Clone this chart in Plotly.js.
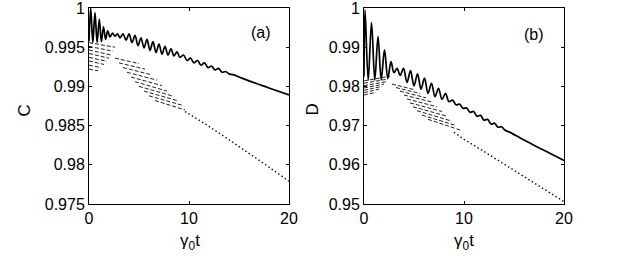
<!DOCTYPE html>
<html>
<head>
<meta charset="utf-8">
<script src="https://cdn.plot.ly/plotly-3.0.1.min.js"></script>
<style>html,body{margin:0;padding:0;background:#fff;}#chart{width:623px;height:264px;}</style>
</head>
<body>
<div id="chart"></div>
<script>
// ---------- Panel (a): C ----------
const aSolidT = [0.00,0.17,0.38,0.60,0.81,1.03,1.24,1.45,1.66,1.87,2.10,2.35,2.60,2.85,3.10,3.40,3.70,4.00,4.30,4.60,4.90,5.20,5.50,5.80,6.10,6.40,6.70,7.00,7.30,7.60,7.90,8.20,8.50,8.80,9.10,9.45,9.80,10.15,10.50,10.85,11.20,11.55,11.90,12.25,12.60,12.95,13.30,13.65,14.0,14.4,15.0,16.0,18.0,20.0];
const aSolidC = [0.9958,1.0000,0.9956,0.9994,0.9956,0.9986,0.9957,0.9976,0.9960,0.9971,0.9963,0.9968,0.9964,0.9967,0.9962,0.9967,0.9959,0.9967,0.9956,0.9965,0.9952,0.9962,0.9949,0.9960,0.9946,0.9957,0.9943,0.9954,0.9941,0.9951,0.9940,0.9948,0.9939,0.9944,0.9937,0.9940,0.9933,0.9936,0.9930,0.9933,0.9927,0.9930,0.9924,0.9926,0.9921,0.9923,0.9918,0.9919,0.9916,0.9915,0.9912,0.9907,0.9898,0.9889];
// dashed segments (start t, start C, end t, end C)
const aRowT0 = [0,0,0,0,0,0,0,0, 2.6,3.0,3.4,3.8,4.2,4.6,5.0,5.5,6.0,6.6];
const aRowC0 = [0.99557,0.99510,0.99465,0.99420,0.99370,0.99325,0.99270,0.99220, 0.9936,0.9930,0.9924,0.9918,0.9912,0.9906,0.9900,0.9894,0.9888,0.9882];
const aRowT1 = [2.6,2.4,2.2,2.0,1.8,1.5,1.2,0.9, 5.0,5.6,6.2,6.8,7.3,7.8,8.3,8.8,9.3,9.6];
const aRowC1 = [0.9950,0.9945,0.9940,0.9936,0.9932,0.9928,0.9924,0.9920, 0.9929,0.9922,0.9915,0.9908,0.9901,0.9894,0.9888,0.9882,0.9876,0.9870];
const aTailT = [9.6,12,14,16,18,20];
const aTailC = [0.9868,0.9849,0.9832,0.9815,0.9797,0.9779];
const aTickVals = [0.975,0.98,0.985,0.99,0.995,1];
const aTickText = ["0.975","0.98","0.985","0.99","0.995","1"];

// ---------- Panel (b): D ----------
const bSolidT = [0.00,0.10,0.42,0.75,1.08,1.40,1.72,2.05,2.38,2.70,3.00,3.30,3.62,3.95,4.30,4.65,5.00,5.35,5.70,6.05,6.40,6.75,7.10,7.45,7.80,8.15,8.50,8.85,9.20,9.55,9.90,10.25,10.60,10.95,11.30,11.65,12.00,12.35,12.70,13.05,13.40,13.75,14.10,14.5,16.0,18.0,20.0];
const bSolidD = [0.9825,0.9995,0.9816,0.9963,0.9816,0.9927,0.9817,0.9893,0.9820,0.9863,0.9835,0.9846,0.9828,0.9846,0.9810,0.9840,0.9801,0.9832,0.9793,0.9821,0.9782,0.9808,0.9774,0.9795,0.9767,0.9782,0.9761,0.9765,0.9753,0.9755,0.9744,0.9745,0.9734,0.9736,0.9724,0.9726,0.9714,0.9716,0.9704,0.9706,0.9696,0.9697,0.9688,0.9684,0.9663,0.9637,0.9611];
const bRowT0 = [0,0,0,0,0,0,0, 2.8,3.2,3.6,4.0,4.3,4.6,4.9,5.3,5.8,6.4];
const bRowD0 = [0.9814,0.9808,0.9802,0.9796,0.9790,0.9784,0.9778, 0.9806,0.9797,0.9788,0.9778,0.9768,0.9758,0.9748,0.9738,0.9727,0.9716];
const bRowT1 = [2.6,2.4,2.2,2.0,1.8,1.5,1.2, 5.0,5.6,6.2,6.8,7.3,7.8,8.3,8.7,9.2,9.7];
const bRowD1 = [0.9826,0.9819,0.9812,0.9806,0.9800,0.9793,0.9785, 0.9792,0.9782,0.9771,0.9760,0.9748,0.9736,0.9724,0.9712,0.9700,0.9688];
const bTailT = [9.0,10,12,14,16,18,20];
const bTailD = [0.9683,0.9665,0.9634,0.9602,0.9570,0.9538,0.9506];
const bTickVals = [0.95,0.96,0.97,0.98,0.99,1];
const bTickText = ["0.95","0.96","0.97","0.98","0.99","1"];

const xTickVals = [0,10,20];
const xTickText = ["0","10","20"];

function segs(t0, v0, t1, v1) {
  const x = [], y = [];
  for (let i = 0; i < t0.length; i++) {
    x.push(t0[i], t1[i], null);
    y.push(v0[i], v1[i], null);
  }
  return {x, y};
}

const FONT = 'Liberation Sans, Arial, sans-serif';
const sa = segs(aRowT0, aRowC0, aRowT1, aRowC1);
const sb = segs(bRowT0, bRowD0, bRowT1, bRowD1);

const traces = [
  {x: sa.x, y: sa.y, xaxis: 'x', yaxis: 'y', mode: 'lines', connectgaps: false,
   line: {color: '#222', width: 1, dash: '4px,2px'}, hoverinfo: 'skip'},
  {x: aTailT, y: aTailC, xaxis: 'x', yaxis: 'y', mode: 'lines',
   line: {color: '#111', width: 1.4, dash: '1.5px,2.5px'}},
  {x: aSolidT, y: aSolidC, xaxis: 'x', yaxis: 'y', mode: 'lines',
   line: {color: '#000', width: 1.7, shape: 'spline', smoothing: 1}},
  {x: sb.x, y: sb.y, xaxis: 'x2', yaxis: 'y2', mode: 'lines', connectgaps: false,
   line: {color: '#222', width: 1, dash: '4px,2px'}, hoverinfo: 'skip'},
  {x: bTailT, y: bTailD, xaxis: 'x2', yaxis: 'y2', mode: 'lines',
   line: {color: '#111', width: 1.4, dash: '1.5px,2.5px'}},
  {x: bSolidT, y: bSolidD, xaxis: 'x2', yaxis: 'y2', mode: 'lines',
   line: {color: '#000', width: 1.7, shape: 'spline', smoothing: 1}}
];

const axBase = {
  showline: true, linecolor: '#000', linewidth: 1, mirror: 'ticks',
  ticks: 'inside', ticklen: 3, tickwidth: 1, tickcolor: '#000',
  showgrid: false, zeroline: false, ticklabeloverflow: 'allow',
  tickfont: {family: FONT, size: 16, color: '#000'}
};

const layout = {
  width: 623, height: 264,
  margin: {l: 0, r: 0, t: 8, b: 60},
  paper_bgcolor: '#fff', plot_bgcolor: '#fff',
  showlegend: false,
  xaxis: Object.assign({}, axBase, {domain: [89/623, 289/623], range: [0, 20], tickmode: 'array', tickvals: xTickVals, ticktext: xTickText, anchor: 'y'}),
  yaxis: Object.assign({}, axBase, {domain: [0, 1], range: [0.975, 1.0000001], tickmode: 'array', tickvals: aTickVals, ticktext: aTickText, anchor: 'x'}),
  xaxis2: Object.assign({}, axBase, {domain: [364/623, 564/623], range: [0, 20], tickmode: 'array', tickvals: xTickVals, ticktext: xTickText, anchor: 'y2'}),
  yaxis2: Object.assign({}, axBase, {domain: [0, 1], range: [0.95, 1.0000002], tickmode: 'array', tickvals: bTickVals, ticktext: bTickText, anchor: 'x2'}),
  annotations: [
    {text: 'C', xref: 'paper', yref: 'paper', x: 23.5/623, y: (204-110)/196, textangle: -90, showarrow: false, font: {family: FONT, size: 17, color: '#000'}, xanchor: 'center', yanchor: 'middle'},
    {text: 'D', xref: 'paper', yref: 'paper', x: 311.5/623, y: (204-110)/196, textangle: -90, showarrow: false, font: {family: FONT, size: 17, color: '#000'}, xanchor: 'center', yanchor: 'middle'},
    {text: 'γ<sub>0</sub>t', xref: 'paper', yref: 'paper', x: 190/623, y: (204-242)/196, showarrow: false, font: {family: FONT, size: 17, color: '#000'}, xanchor: 'center', yanchor: 'middle'},
    {text: 'γ<sub>0</sub>t', xref: 'paper', yref: 'paper', x: 464/623, y: (204-242)/196, showarrow: false, font: {family: FONT, size: 17, color: '#000'}, xanchor: 'center', yanchor: 'middle'},
    {text: '(a)', xref: 'paper', yref: 'paper', x: 261/623, y: (204-32.5)/196, showarrow: false, font: {family: FONT, size: 16, color: '#000'}, xanchor: 'center', yanchor: 'middle'},
    {text: '(b)', xref: 'paper', yref: 'paper', x: 534/623, y: (204-34)/196, showarrow: false, font: {family: FONT, size: 16, color: '#000'}, xanchor: 'center', yanchor: 'middle'}
  ]
};

Plotly.newPlot('chart', traces, layout, {staticPlot: true, displayModeBar: false});
</script>
</body>
</html>
